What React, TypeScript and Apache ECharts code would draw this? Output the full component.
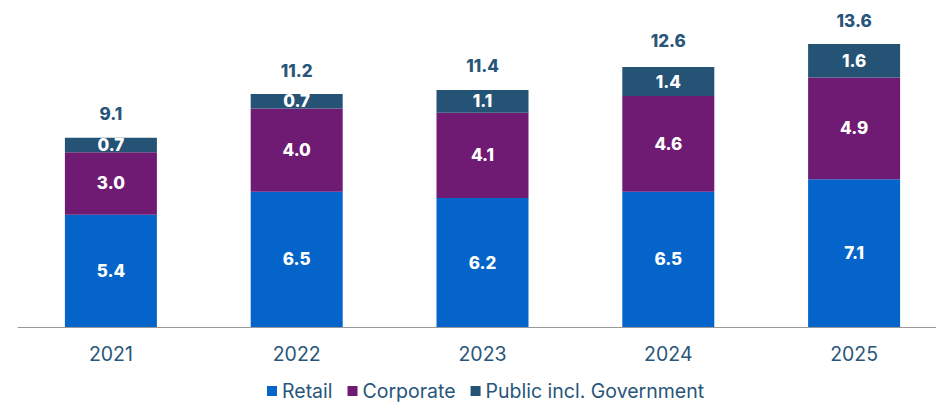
import React, { useEffect, useRef } from "react";
import * as echarts from "echarts";

const categories = ["2021", "2022", "2023", "2024", "2025"];
const retail = [5.4, 6.5, 6.2, 6.5, 7.1];
const corporate = [3.0, 4.0, 4.1, 4.6, 4.9];
const publicGov = [0.7, 0.7, 1.1, 1.4, 1.6];
const totals = [9.1, 11.2, 11.4, 12.6, 13.6];

const FONT = "Inter, 'Noto Sans', sans-serif";
const DARK = "#28557a";

export default function App() {
  const ref = useRef<HTMLDivElement>(null);
  useEffect(() => {
    if (!ref.current) return;
    const chart = echarts.init(ref.current, undefined, { renderer: "svg" });
    const segLabel = {
      show: true,
      position: "inside",
      color: "#ffffff",
      fontFamily: FONT,
      fontWeight: 800,
      fontSize: 17,
      formatter: (p: any) => Number(p.value).toFixed(1),
    };
    chart.setOption({
      animation: false,
      textStyle: { fontFamily: FONT },
      grid: { left: 18, right: 0, top: 15, bottom: 75, containLabel: false },
      legend: {
        top: 376,
        left: 262,
        itemWidth: 10,
        itemHeight: 10,
        itemGap: 15,
        icon: "rect",
        textStyle: { color: DARK, fontSize: 19.5, fontFamily: FONT },
        data: ["Retail", "Corporate", "Public incl. Government"],
      },
      xAxis: {
        type: "category",
        data: categories,
        axisTick: { show: false },
        axisLine: { lineStyle: { color: "#999999", width: 1 } },
        axisLabel: { color: DARK, fontSize: 19.5, margin: 17, fontFamily: FONT },
      },
      yAxis: {
        type: "value",
        min: 0,
        max: 15,
        show: false,
        splitLine: { show: false },
      },
      series: [
        {
          name: "Retail",
          type: "bar",
          stack: "total",
          barWidth: 92,
          data: retail,
          itemStyle: { color: "#0564c9" },
          label: segLabel,
        },
        {
          name: "Corporate",
          type: "bar",
          stack: "total",
          barWidth: 92,
          data: corporate,
          itemStyle: { color: "#6f1b73" },
          label: segLabel,
        },
        {
          name: "Public incl. Government",
          type: "bar",
          stack: "total",
          barWidth: 92,
          data: publicGov,
          itemStyle: { color: "#245376" },
          label: segLabel,
        },
        {
          name: "Total",
          type: "scatter",
          data: totals,
          symbolSize: 0,
          itemStyle: { opacity: 1 },
          label: {
            show: true,
            position: "top",
            distance: 15,
            color: DARK,
            fontFamily: FONT,
            fontWeight: 800,
            fontSize: 17,
            formatter: (p: any) => Number(p.value).toFixed(1),
          },
          tooltip: { show: false },
        },
      ],
    });
    return () => chart.dispose();
  }, []);
  return (
    <div style={{ position: "absolute", left: 0, top: 0, width: 936, height: 402, overflow: "hidden" }}>
      <div ref={ref} style={{ width: 947, height: 402 }} />
    </div>
  );
}
